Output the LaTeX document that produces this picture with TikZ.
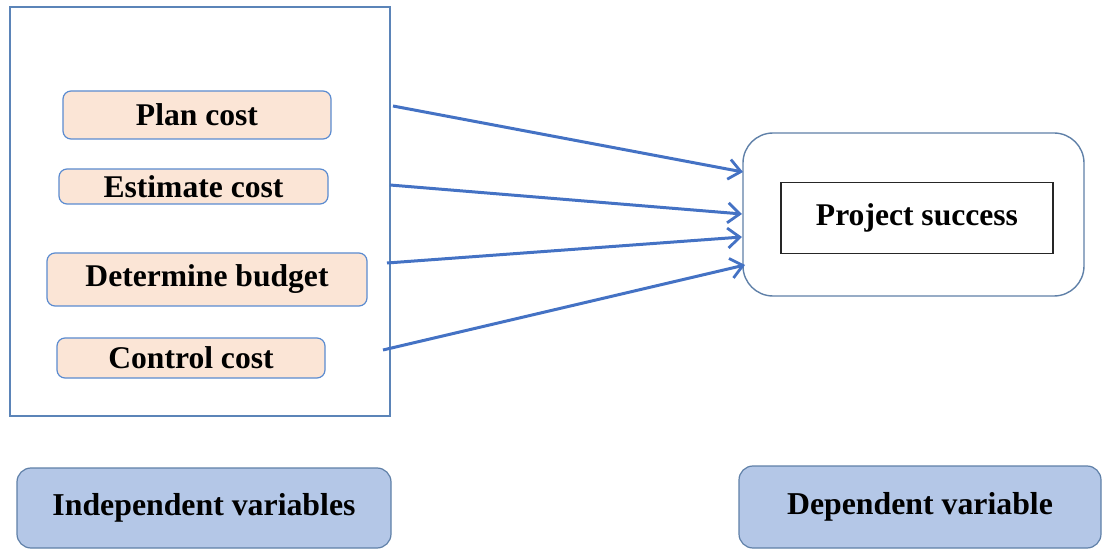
\documentclass[tikz,border=0pt]{standalone}
\usepackage{fontspec}
\setmainfont{Liberation Serif}
\usepackage{tikz}
\usetikzlibrary{arrows.meta,positioning,calc}

\definecolor{linkblue}{HTML}{4472C4}
\definecolor{peach}{HTML}{FBE5D6}
\definecolor{peachline}{HTML}{5B8BD0}
\definecolor{labelfill}{HTML}{B4C7E7}
\definecolor{labelline}{HTML}{5F80A8}
\definecolor{frameline}{HTML}{5B84B8}

\begin{document}
\begin{tikzpicture}[x=0.5pt,y=-0.5pt,
	varbox/.style={draw=peachline,fill=peach,line width=0.6pt,rounded corners=4pt,
		font=\bfseries\fontsize{15.8}{18}\selectfont,inner sep=0pt},
	keybox/.style={draw=labelline,fill=labelfill,line width=0.6pt,rounded corners=7pt,
		font=\bfseries\fontsize{15.9}{18}\selectfont,inner sep=0pt},
	link/.style={linkblue,line width=1.5pt,-{Straight Barb[length=6pt,width=10pt,line width=1.4pt]}}]
	\useasboundingbox (0,0) rectangle (1105,551);

	% independent side
	\node[draw=frameline,line width=0.7pt,minimum width=190pt,minimum height=204.5pt] (ivframe) at (200,211.5) {};
	\node[varbox,minimum width=134pt  ,minimum height=24pt  ] (plan    ) at (197  ,115  ) {Plan cost};
	\node[varbox,minimum width=134.5pt,minimum height=17.5pt] (estimate) at (193.5,186.5) {Estimate cost};
	\node[varbox,minimum width=160pt  ,minimum height=26.5pt] (budget  ) at (207  ,279.5) {Determine budget};
	\node[varbox,minimum width=134pt  ,minimum height=20pt  ] (control ) at (191  ,358  ) {Control cost};

	% dependent side
	\node[draw=labelline,line width=0.7pt,rounded corners=15pt,minimum width=170.5pt,minimum height=81.5pt] (dvframe) at (913.5,214.5) {};
	\node[draw=black!85,line width=0.9pt,minimum width=136pt,minimum height=35.5pt,
		font=\bfseries\fontsize{15.8}{18}\selectfont] (success) at (917,218) {Project success};

	% arrows
	\coordinate (s1) at (393,106);  \coordinate (e1) at (743,172);
	\coordinate (s2) at (390,185);  \coordinate (e2) at (742,214);
	\coordinate (s3) at (387,263);  \coordinate (e3) at (742,237);
	\coordinate (s4) at (383,350);  \coordinate (e4) at (745,265);
	\draw[link] (s1) -- (e1);
	\draw[link] (s2) -- (e2);
	\draw[link] (s3) -- (e3);
	\draw[link] (s4) -- (e4);

	% captions
	\node[keybox,minimum width=187pt,minimum height=40pt] (indep) at (204,508) {Independent variables};
	\node[keybox,minimum width=181pt,minimum height=41pt] (dep  ) at (920,507) {Dependent variable};
\end{tikzpicture}
\end{document}
